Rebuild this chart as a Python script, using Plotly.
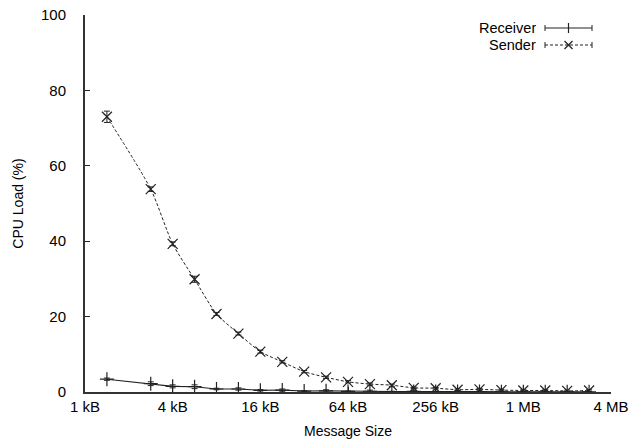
import numpy as np
import plotly.graph_objects as go

# Message sizes in kB (multiples of the 1448-byte TCP segment and powers of two)
sizes_kb = [1.414, 2.828, 4, 5.657, 8, 11.31, 16, 22.63, 32, 45.25, 64, 90.51,
            128, 181.0, 256, 362.0, 512, 724.1, 1024, 1448, 2048, 2896]

receiver_load = [3.4, 2.2, 1.5, 1.4, 0.8, 0.8, 0.45, 0.5, 0.25, 0.3, 0.15, 0.2,
                 0.1, 0.15, 0.1, 0.1, 0.1, 0.05, 0.05, 0.05, 0.05, 0.05]
receiver_err = [0.3, 0.5, 0.4, 0.5, 0.2, 0.3, 0.2, 0.3, 0.1, 0.3, 0.1, 0.3,
                0.1, 0.3, 0.1, 0.3, 0.1, 0.2, 0.1, 0.2, 0.1, 0.1]

sender_load = [73.0, 53.8, 39.3, 29.9, 20.7, 15.5, 10.7, 8.0, 5.4, 3.9, 2.7, 2.1,
               1.8, 1.1, 1.0, 0.6, 0.7, 0.5, 0.4, 0.4, 0.3, 0.4]
sender_err = [1.5, 0.6, 0.5, 0.8, 0.4, 0.4, 0.4, 0.3, 0.3, 0.3, 0.3, 0.3,
              0.3, 0.2, 0.2, 0.2, 0.2, 0.2, 0.2, 0.2, 0.2, 0.2]

tick_vals = [1, 4, 16, 64, 256, 1024, 4096]
tick_text = ["1 kB", "4 kB", "16 kB", "64 kB", "256 kB", "1 MB", "4 MB"]
y_ticks = [0, 20, 40, 60, 80, 100]

FONT = "Liberation Sans, Arial, Helvetica, sans-serif"
FS = 15
INK = "#222222"

# plot area in pixels
L, R, T, B = 85, 25, 15, 48
W, H = 636, 440
PW, PH = W - L - R, H - T - B

fig = go.Figure()

fig.add_trace(go.Scatter(
    x=sizes_kb, y=receiver_load, name="Receiver", mode="lines+markers",
    line=dict(color=INK, width=1.1),
    marker=dict(symbol="cross-thin", size=10, line=dict(color=INK, width=1.2)),
    error_y=dict(type="data", array=receiver_err, color=INK, thickness=1, width=3),
    showlegend=False,
))

fig.add_trace(go.Scatter(
    x=sizes_kb, y=sender_load, name="Sender", mode="lines+markers",
    line=dict(color=INK, width=1.0, dash="3px,2px", shape="spline", smoothing=0.7),
    marker=dict(symbol="x-thin", size=10, line=dict(color=INK, width=1.2)),
    error_y=dict(type="data", array=sender_err, color=INK, thickness=1, width=3),
    showlegend=False,
))


def to_paper(px, py):
    return (px - L) / PW, 1 - (py - T) / PH


# Key drawn gnuplot-style: label on the left, sample with end caps on the right
shapes = []
annotations = []
key_rows = [("Receiver", "solid", "+", 28), ("Sender", "3px,2px", "x", 45)]
x0, x1 = 545, 592
xc = (x0 + x1) / 2
for label, dash, sym, yp in key_rows:
    tx, ty = to_paper(537, yp)
    annotations.append(dict(
        text=label, xref="paper", yref="paper", showarrow=False,
        x=tx, y=ty, xanchor="right", yanchor="middle",
        borderpad=0, height=14,
        font=dict(family=FONT, size=14.5, color="black"),
    ))
    ax0, ay = to_paper(x0, yp)
    ax1, _ = to_paper(x1, yp)
    shapes.append(dict(type="line", xref="paper", yref="paper", x0=ax0, x1=ax1,
                       y0=ay, y1=ay, line=dict(color=INK, width=1, dash=dash)))
    for ex in (x0, x1):
        ex_, ey0 = to_paper(ex, yp - 3)
        _, ey1 = to_paper(ex, yp + 3)
        shapes.append(dict(type="line", xref="paper", yref="paper", x0=ex_, x1=ex_,
                           y0=ey0, y1=ey1, line=dict(color=INK, width=1)))
    if sym == "+":
        a, b = to_paper(xc, yp - 5)
        _, c = to_paper(xc, yp + 5)
        shapes.append(dict(type="line", xref="paper", yref="paper", x0=a, x1=a,
                           y0=b, y1=c, line=dict(color=INK, width=1.2)))
    else:
        for s in (-1, 1):
            a, b = to_paper(xc - 4, yp - 4 * s)
            c, d = to_paper(xc + 4, yp + 4 * s)
            shapes.append(dict(type="line", xref="paper", yref="paper", x0=a, x1=c,
                               y0=b, y1=d, line=dict(color=INK, width=1.2)))

fig.update_layout(
    width=W, height=H,
    margin=dict(l=L, r=R, t=T, b=B),
    paper_bgcolor="white", plot_bgcolor="white",
    font=dict(family=FONT, size=FS, color="black"),
    shapes=shapes, annotations=annotations,
    showlegend=False,
)

fig.update_xaxes(
    type="log", range=[0, np.log10(4096)],
    tickvals=tick_vals, ticktext=tick_text,
    ticks="inside", ticklen=5, tickcolor=INK,
    showline=True, linecolor="#333333", linewidth=2,
    showgrid=False, zeroline=False, automargin=False,
    tickfont=dict(size=FS),
    title=dict(text="Message Size", standoff=12, font=dict(size=14)),
)
fig.update_yaxes(
    range=[0, 100], tickvals=y_ticks,
    ticks="inside", ticklen=5, tickcolor=INK,
    showline=True, linecolor="#333333", linewidth=2,
    showgrid=False, zeroline=False, automargin=False,
    tickfont=dict(size=FS), ticklabelstandoff=14,
    title=dict(text="CPU Load (%)", standoff=14, font=dict(size=14)),
)

fig.write_html("out.html")
